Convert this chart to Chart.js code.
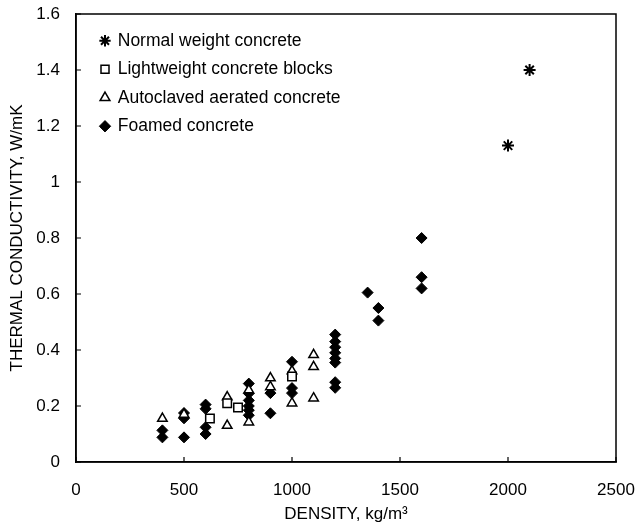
<!DOCTYPE html>
<html>
<head>
<meta charset="utf-8">
<script src="https://cdn.jsdelivr.net/npm/chart.js@4/dist/chart.umd.min.js"></script>
<style>
html,body{margin:0;padding:0;background:#fff;}
#wrap{width:636px;height:527px;}
</style>
</head>
<body>
<div id="wrap"><canvas id="c" width="636" height="527"></canvas></div>
<script>
// Data (density kg/m3, thermal conductivity W/mK)
const normalX = [2000, 2100];
const normalY = [1.13, 1.40];

const blocksX = [620, 700, 750, 1000];
const blocksY = [0.155, 0.21, 0.195, 0.305];

const aacX = [400, 500, 700, 700, 800, 800, 900, 900, 1000, 1000, 1100, 1100, 1100];
const aacY = [0.155, 0.17, 0.232, 0.13, 0.257, 0.142, 0.30, 0.268, 0.325, 0.21, 0.383, 0.34, 0.228];

const foamX = [400, 400, 500, 500, 500, 600, 600, 600, 600, 800, 800, 800, 800, 800, 800, 900, 900, 1000, 1000, 1000, 1200, 1200, 1200, 1200, 1200, 1200, 1200, 1200, 1350, 1400, 1400, 1600, 1600, 1600];
const foamY = [0.113, 0.088, 0.175, 0.156, 0.088, 0.205, 0.19, 0.124, 0.10, 0.28, 0.245, 0.22, 0.20, 0.185, 0.167, 0.246, 0.174, 0.358, 0.264, 0.246, 0.455, 0.43, 0.41, 0.39, 0.37, 0.355, 0.285, 0.265, 0.605, 0.55, 0.505, 0.80, 0.66, 0.62];

const seriesNames = ['Normal weight concrete', 'Lightweight concrete blocks', 'Autoclaved aerated concrete', 'Foamed concrete'];
const xTicks = [0, 500, 1000, 1500, 2000, 2500];
const yTicks = [0, 0.2, 0.4, 0.6, 0.8, 1, 1.2, 1.4, 1.6];

const pts = (xs, ys) => xs.map((x, i) => ({x: x, y: ys[i]}));
const FONT = 'Liberation Sans, Arial, sans-serif';

const frameTicks = {
  id: 'frameTicks',
  beforeDraw(chart) {
    const a = chart.chartArea;
    if (chart.legend) {
      chart.legend.left = a.left + 14;
      chart.legend.top = a.top + 7;
    }
  },
  afterDatasetsDraw(chart) {
    const {ctx, chartArea: a, scales} = chart;
    ctx.save();
    ctx.strokeStyle = '#000';
    ctx.lineWidth = 1.5;
    ctx.strokeRect(a.left, a.top, a.right - a.left, a.bottom - a.top);
    ctx.lineWidth = 1.2;
    ctx.beginPath();
    scales.x.ticks.forEach(t => {
      const px = scales.x.getPixelForValue(t.value);
      ctx.moveTo(px, a.bottom); ctx.lineTo(px, a.bottom - 5);
    });
    scales.y.ticks.forEach(t => {
      const py = scales.y.getPixelForValue(t.value);
      ctx.moveTo(a.left, py); ctx.lineTo(a.left + 5, py);
    });
    ctx.stroke();
    ctx.restore();
  }
};

new Chart(document.getElementById('c'), {
  type: 'scatter',
  data: {
    datasets: [
      {label: seriesNames[0], data: pts(normalX, normalY), pointStyle: 'star', pointRadius: 6, borderColor: '#000', backgroundColor: '#000', borderWidth: 2},
      {label: seriesNames[1], data: pts(blocksX, blocksY), pointStyle: 'rect', pointRadius: 6, borderColor: '#000', backgroundColor: '#fff', borderWidth: 1.5},
      {label: seriesNames[2], data: pts(aacX, aacY), pointStyle: 'triangle', pointRadius: 5.5, borderColor: '#000', backgroundColor: '#fff', borderWidth: 1.5},
      {label: seriesNames[3], data: pts(foamX, foamY), pointStyle: 'rectRot', pointRadius: 5.5, borderColor: '#000', backgroundColor: '#000', borderWidth: 1}
    ]
  },
  options: {
    responsive: false,
    animation: false,
    layout: {padding: {top: 14, right: 20, left: 0, bottom: 0}},
    plugins: {
      tooltip: {enabled: false},
      legend: {
        position: 'chartArea',
        align: 'start',
        labels: {
          usePointStyle: true,
          boxWidth: 8, boxHeight: 8,
          padding: 11,
          color: '#000',
          font: {family: FONT, size: 17.5}
        }
      }
    },
    scales: {
      x: {
        type: 'linear', min: 0, max: 2500,
        afterBuildTicks: s => { s.ticks = xTicks.map(v => ({value: v})); },
        afterFit: s => { s.height = 65; s.paddingLeft = 0; s.paddingRight = 0; },
        grid: {display: false, drawTicks: false},
        border: {display: true, color: '#000', width: 1.5},
        ticks: {color: '#000', padding: 18, font: {family: FONT, size: 17}, callback: v => String(v), maxRotation: 0},
        title: {display: true, text: 'DENSITY, kg/m³', color: '#000', font: {family: FONT, size: 17}, padding: {top: 0, bottom: 2}}
      },
      y: {
        type: 'linear', min: 0, max: 1.6,
        afterBuildTicks: s => { s.ticks = yTicks.map(v => ({value: v})); },
        afterFit: s => { s.width = 76; s.paddingTop = 0; s.paddingBottom = 0; },
        grid: {display: false, drawTicks: false},
        border: {display: true, color: '#000', width: 1.5},
        ticks: {color: '#000', padding: 16, font: {family: FONT, size: 17}, callback: v => String(v)},
        title: {display: true, text: 'THERMAL CONDUCTIVITY, W/mK', color: '#000', font: {family: FONT, size: 17}, padding: {top: 7, bottom: 0}}
      }
    }
  },
  plugins: [frameTicks]
});
</script>
</body>
</html>
